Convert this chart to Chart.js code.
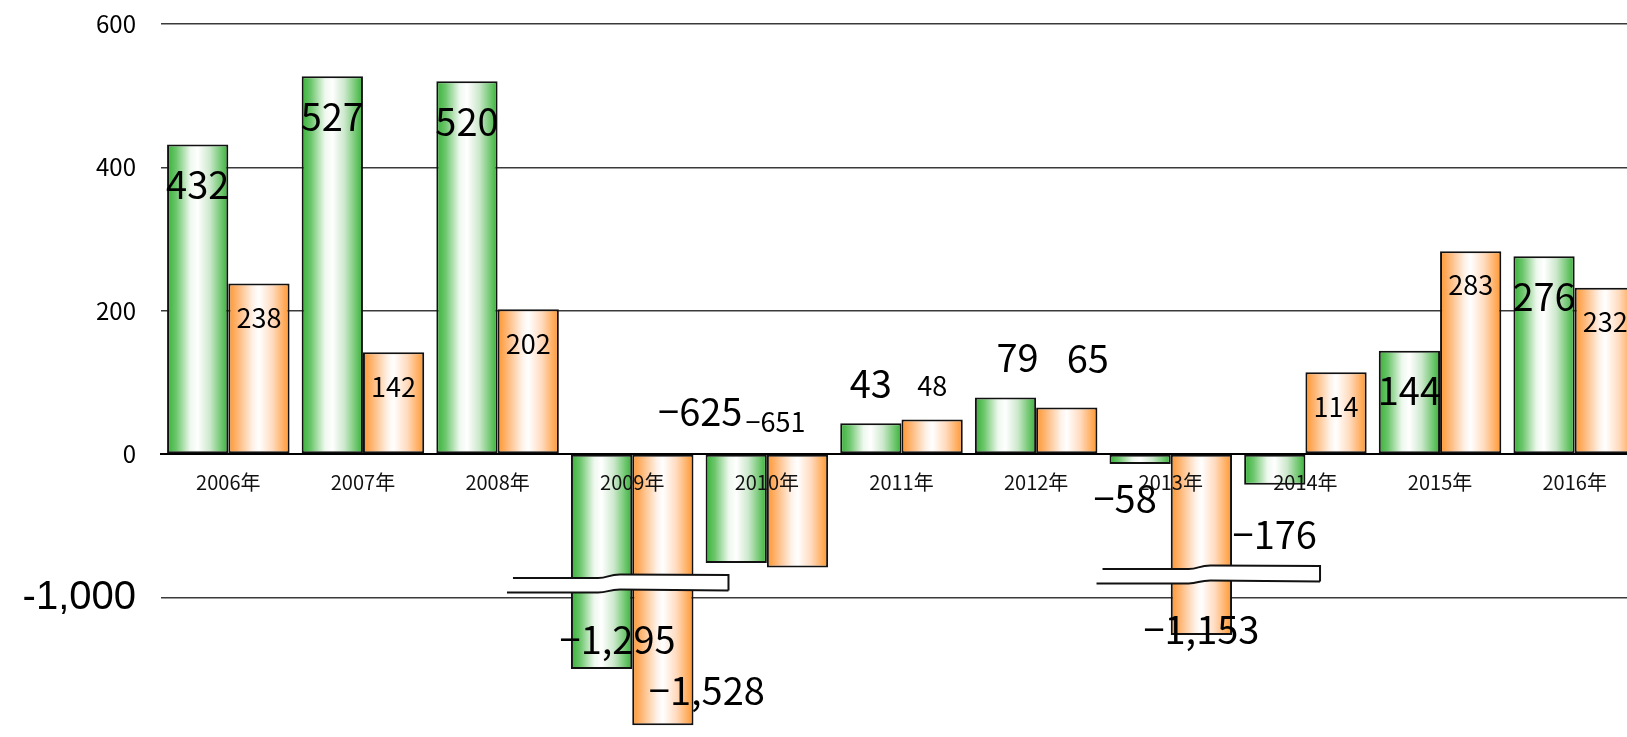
<!DOCTYPE html>
<html lang="ja">
<head>
<meta charset="utf-8">
<title>2006年〜2016年 推移</title>
<script src="https://cdn.jsdelivr.net/npm/chart.js@4.4.1/dist/chart.umd.min.js"></script>
<style>
  html, body { margin: 0; padding: 0; background: #fff; overflow: hidden; }
  #wrap { position: relative; width: 1660px; height: 737px; }
</style>
</head>
<body>
<div id="wrap"><canvas id="myChart"></canvas></div>
<script>
const years = ["2006年", "2007年", "2008年", "2009年", "2010年", "2011年", "2012年", "2013年", "2014年", "2015年", "2016年"];
const greenValues = [432, 527, 520, -1295, -625, 43, 79, -58, -176, 144, 276];
const orangeValues = [238, 142, 202, -1528, -651, 48, 65, -1153, 114, 283, 232];
const yTicks = [-1000, 0, 200, 400, 600];

const jpFont = "'Noto Sans CJK JP', 'Noto Sans', sans-serif";
const groupPercent = 0.91;

const greenStops = [[0, "#36b236"], [0.15, "#6cc66c"], [0.38, "#eef8ee"], [0.5, "#ffffff"], [0.7, "#cce8cc"], [1, "#36b236"]];
const orangeStops = [[0, "#ff962e"], [0.15, "#ffb573"], [0.4, "#fff1e7"], [0.5, "#ffffff"], [0.72, "#ffdbbf"], [1, "#ff962e"]];

// linear axis with a compressed negative side (piecewise mapping)
class BrokenLinearScale extends Chart.LinearScale {
  _fraction(value) {
    const s = this.options.stops;
    let i = 0;
    while (i < s.length - 2 && value < s[i + 1][0]) i++;
    const [v0, f0] = s[i];
    const [v1, f1] = s[i + 1];
    return f0 + ((value - v0) / (v1 - v0)) * (f1 - f0);
  }
  getPixelForValue(value) {
    return this.top + this._fraction(value) * (this.bottom - this.top);
  }
  getValueForPixel(pixel) {
    const s = this.options.stops;
    const f = (pixel - this.top) / (this.bottom - this.top);
    let i = 0;
    while (i < s.length - 2 && f > s[i + 1][1]) i++;
    const [v0, f0] = s[i];
    const [v1, f1] = s[i + 1];
    return v0 + ((f - f0) / (f1 - f0)) * (v1 - v0);
  }
}
BrokenLinearScale.id = "brokenLinear";
BrokenLinearScale.defaults = { stops: [[1, 0], [0, 1]] };
Chart.register(BrokenLinearScale);

function barFill(ctx, stops) {
  const chart = ctx.chart;
  const xs = chart.scales.x;
  if (!xs || ctx.dataIndex === undefined) return stops[0][1];
  const group = (xs.width / years.length) * groupPercent;
  const center = xs.getPixelForValue(ctx.dataIndex);
  const left = ctx.datasetIndex === 0 ? center - group / 2 : center;
  if (!isFinite(left) || !isFinite(group) || group <= 0) return stops[0][1];
  const g = chart.ctx.createLinearGradient(left, 0, left + group / 2, 0);
  stops.forEach(([o, c]) => g.addColorStop(o, c));
  return g;
}

function formatValue(v) {
  const s = Math.abs(v).toLocaleString("en-US");
  return v < 0 ? "−" + s : s;
}

// value labels: inside the bar end when there is room, otherwise just outside
const valueLabels = {
  id: "valueLabels",
  afterDatasetsDraw(chart, args, opts) {
    const ctx = chart.ctx;
    const zeroY = chart.scales.y.getPixelForValue(0);
    ctx.save();
    ctx.fillStyle = "#000";
    ctx.textAlign = "center";
    ctx.textBaseline = "middle";
    chart.data.datasets.forEach((ds, di) => {
      const meta = chart.getDatasetMeta(di);
      meta.data.forEach((bar, i) => {
        const v = ds.data[i];
        const t = opts.tweaks[di + ":" + i] || {};
        const big = t.big !== undefined ? t.big : di === 0;
        const gap = t.gap !== undefined ? t.gap : (big ? 40 : 34);
        let mode = t.mode;
        if (!mode) {
          if (v >= 0) mode = v >= 100 ? "inside" : "outside";
          else mode = v <= -1000 ? "inside" : "outside";
        }
        let y;
        if (mode === "axis") y = zeroY - gap;
        else if (v >= 0) y = mode === "inside" ? bar.y + gap : bar.y - gap;
        else y = mode === "inside" ? bar.y - gap : bar.y + gap;
        ctx.font = (big ? opts.bigSize : opts.smallSize) + "px " + jpFont;
        ctx.fillText(formatValue(v), bar.x + (t.dx || 0), y);
      });
    });
    ctx.restore();
  },
};

// white "wave" bands marking where the axis is cut
const axisBreaks = {
  id: "axisBreaks",
  afterDatasetsDraw(chart, args, opts) {
    const ctx = chart.ctx;
    const ys = chart.scales.y;
    const m0 = chart.getDatasetMeta(0);
    const m1 = chart.getDatasetMeta(1);
    opts.marks.forEach((b) => {
      const g = m0.data[b.index];
      const o = m1.data[b.index];
      const x0 = g.x - g.width / 2 + b.from;
      const x1 = o.x + o.width / 2 + b.to;
      const xm = x0 + (x1 - x0) * 0.46;
      const yc = ys.getPixelForValue(b.value);

      ctx.save();
      ctx.fillStyle = "#fff";
      ctx.beginPath();
      ctx.moveTo(x0, yc - 6);
      ctx.lineTo(xm - 14, yc - 6);
      ctx.bezierCurveTo(xm - 4, yc - 6, xm - 4, yc - 9.5, xm + 8, yc - 9.5);
      ctx.lineTo(x1, yc - 9);
      ctx.lineTo(x1, yc + 6.5);
      ctx.lineTo(xm + 8, yc + 5.5);
      ctx.bezierCurveTo(xm - 4, yc + 5.5, xm - 4, yc + 8.5, xm - 14, yc + 8.5);
      ctx.lineTo(x0 - 6, yc + 8.5);
      ctx.closePath();
      ctx.fill();

      ctx.strokeStyle = "#111";
      ctx.lineWidth = 2;
      ctx.beginPath();
      // upper edge
      ctx.moveTo(x0, yc - 6);
      ctx.lineTo(xm - 14, yc - 6);
      ctx.bezierCurveTo(xm - 4, yc - 6, xm - 4, yc - 9.5, xm + 8, yc - 9.5);
      ctx.lineTo(x1, yc - 9);
      // closed right end
      ctx.lineTo(x1, yc + 6.5);
      // lower edge
      ctx.moveTo(x0 - 6, yc + 8.5);
      ctx.lineTo(xm - 14, yc + 8.5);
      ctx.bezierCurveTo(xm - 4, yc + 8.5, xm - 4, yc + 5.5, xm + 8, yc + 5.5);
      ctx.lineTo(x1, yc + 6.5);
      ctx.stroke();
      ctx.restore();
    });
  },
};

const tickFont = (c) =>
  c.tick && c.tick.value === -1000
    ? { family: "'Liberation Sans', Arial, sans-serif", size: 40 }
    : { family: jpFont, size: 24 };

new Chart(document.getElementById("myChart"), {
  type: "bar",
  data: {
    labels: years,
    datasets: [
      {
        label: "green",
        data: greenValues,
        backgroundColor: (c) => barFill(c, greenStops),
        borderColor: "#111",
        borderWidth: 2,
        borderSkipped: false,
      },
      {
        label: "orange",
        data: orangeValues,
        backgroundColor: (c) => barFill(c, orangeStops),
        borderColor: "#111",
        borderWidth: 2,
        borderSkipped: false,
      },
    ],
  },
  options: {
    responsive: true,
    maintainAspectRatio: false,
    animation: false,
    layout: { padding: { top: 24, bottom: 4, left: 0, right: 18 } },
    datasets: { bar: { categoryPercentage: groupPercent, barPercentage: 1 } },
    scales: {
      x: {
        position: { y: 0 },
        offset: true,
        grid: { display: false, drawTicks: false },
        border: { display: true, color: "#000", width: 2, z: 1 },
        ticks: {
          z: 1,
          color: "#111",
          font: { family: jpFont, size: 20 },
          padding: 16,
          maxRotation: 0,
          autoSkip: false,
        },
        afterFit: (s) => {
          s.height = 0;
          s.paddingLeft = 0;
          s.paddingRight = 0;
        },
      },
      y: {
        type: "brokenLinear",
        min: -1560,
        max: 600,
        stops: [[600, 0], [0, 0.6065], [-660, 0.7687], [-1000, 0.8096], [-1560, 1]],
        afterBuildTicks: (s) => { s.ticks = yTicks.map((v) => ({ value: v })); },
        afterFit: (s) => {
          s.width = 161;
          s.paddingTop = 0;
          s.paddingBottom = 0;
        },
        grid: { color: "#3a3a3a", lineWidth: 1.5, drawTicks: false },
        border: { display: false },
        ticks: {
          padding: 25,
          color: "#000",
          font: tickFont,
          callback: (v) => v.toLocaleString("en-US"),
        },
      },
    },
    plugins: {
      legend: { display: false },
      tooltip: { enabled: false },
      axisBreaks: {
        marks: [
          { index: 3, value: -836, from: -58, to: 35 },
          { index: 7, value: -730, from: -7, to: 88 },
        ],
      },
      valueLabels: {
        bigSize: 38,
        smallSize: 27,
        tweaks: {
          "0:3": { dx: 16, gap: 30 },
          "0:4": { mode: "axis", dx: -36, gap: 42 },
          "0:6": { dx: 12 },
          "0:7": { dx: -15, gap: 34 },
          "0:8": { gap: 50 },
          "1:3": { big: true, dx: 44, gap: 35 },
          "1:4": { mode: "axis", dx: -22, gap: 32 },
          "1:6": { big: true, dx: 21, gap: 49 },
          "1:7": { big: true, gap: 5 },
        },
      },
    },
  },
  plugins: [axisBreaks, valueLabels],
});
</script>
</body>
</html>
